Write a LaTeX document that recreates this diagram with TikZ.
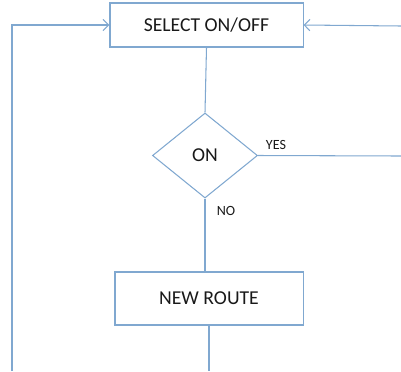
\documentclass[tikz,border=0pt]{standalone}
\usepackage{fontspec}
\setmainfont{Carlito}
\usetikzlibrary{shapes.geometric,arrows.meta}
\definecolor{flowline}{RGB}{128,168,208}
\definecolor{flowtext}{RGB}{25,25,25}

\tikzset{
    flowbox/.style = {draw = flowline, line width = 0.75pt, text = flowtext, font = \fontsize{14}{16}\selectfont, inner sep = 0pt},
    flowdec/.style = {flowbox, diamond, aspect = 1.24},
    flowarr/.style = {draw = flowline, line width = 0.75pt},
    flowtip/.style = {flowarr, -{Straight Barb[length=4pt, width=8pt]}},
    flowlbl/.style = {text = flowtext, font = \fontsize{10}{12}\selectfont}
}

\begin{document}
\begin{tikzpicture}[x = 0.025cm, y = -0.025cm]
        \useasboundingbox (0,0) rectangle (401,371);
        %boxes of the loop
        \node[flowbox, minimum width = 4.825cm, minimum height = 1.1cm] (select) at (206.5,25) {SELECT ON/OFF};
        \node[flowdec, minimum width = 2.625cm, minimum height = 2.125cm] (on) at (205,155.5) {ON};
        \node[flowbox, minimum width = 4.7cm, minimum height = 1.325cm] (route) at (209,298.5) {NEW ROUTE};
        %loose ends at the edges
        \coordinate (yesend) at (401,156);
        \coordinate (backright) at (401,26);
        \coordinate (backleft) at (12,371);
        \coordinate (routeend) at (209,371);
        %connectors
        \draw[flowarr] (select.south) -- (on.north);
        \draw[flowarr] (on.south) -- (on.south |- route.north);
        \draw[flowarr] (on.east) -- (yesend);
        \draw[flowarr] (route.south) -- (routeend);
        \draw[flowtip] (backright) -- (select.east);
        \draw[flowtip] (backleft) |- (select.west);
        %branch labels
        \node[flowlbl] (yes) at (276,145) {YES};
        \node[flowlbl] (no) at (226,211) {NO};
    \end{tikzpicture}
\end{document}
